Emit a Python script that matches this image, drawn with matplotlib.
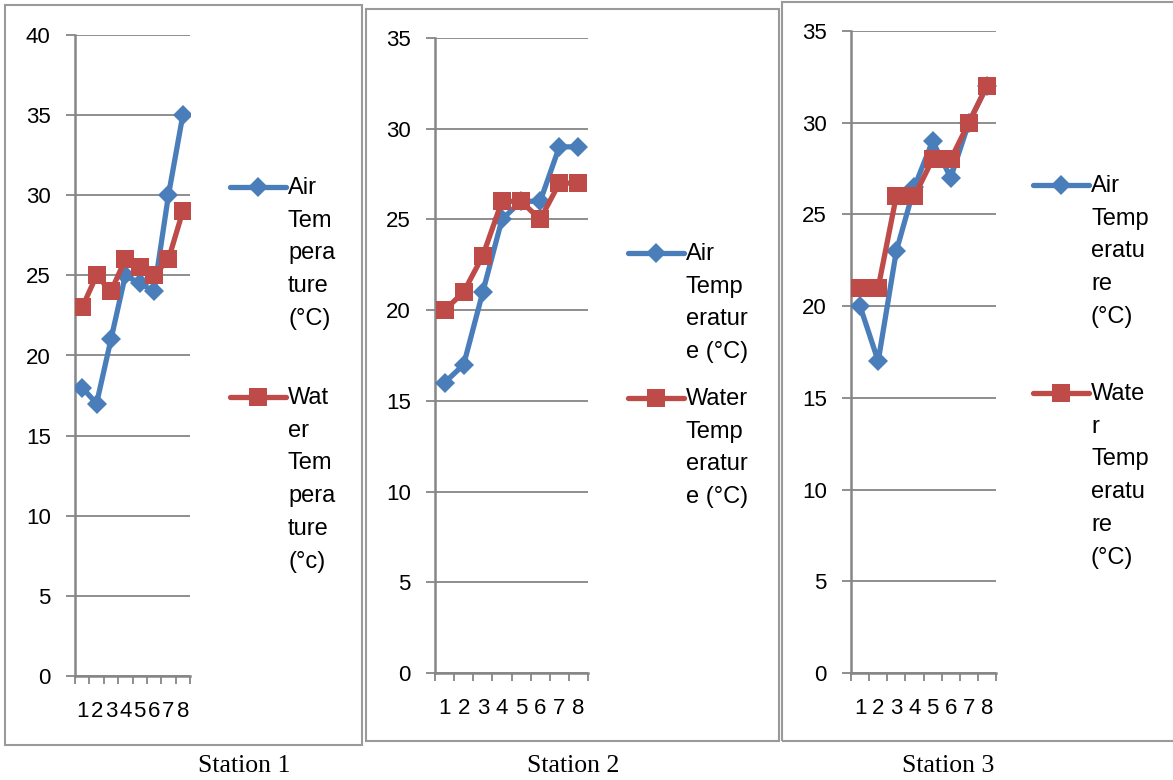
import matplotlib
matplotlib.use("Agg")
import matplotlib.pyplot as plt
from matplotlib.lines import Line2D
from matplotlib.patches import Rectangle

# 데이터
samples = [1, 2, 3, 4, 5, 6, 7, 8]
air_s1 = [18, 17, 21, 25, 24.5, 24, 30, 35]
water_s1 = [23, 25, 24, 26, 25.5, 25, 26, 29]
air_s2 = [16, 17, 21, 25, 26, 26, 29, 29]
water_s2 = [20, 21, 23, 26, 26, 25, 27, 27]
air_s3 = [20, 17, 23, 26.5, 29, 27, 30, 32]
water_s3 = [21, 21, 26, 26, 28, 28, 30, 32]

station_names = ["Station 1", "Station 2", "Station 3"]
air_labels = ["Air\nTem\npera\nture\n(°C)",
              "Air\nTemp\neratur\ne (°C)",
              "Air\nTemp\neratu\nre\n(°C)"]
water_labels = ["Wat\ner\nTem\npera\nture\n(°c)",
                "Water\nTemp\neratur\ne (°C)",
                "Wate\nr\nTemp\neratu\nre\n(°C)"]

W, H = 1173, 780
BLUE = "#4a7ebb"
RED = "#be4b48"
GRAY = "#868686"
SANS = "Liberation Sans"

fig = plt.figure(figsize=(W / 100, H / 100), dpi=100)


def fx(px):
    return px / W


def fy(py):
    return 1 - py / H


# 패널 위치 (픽셀): 박스, 축 영역, 범례, 제목
panels = [
    dict(box=(5, 5, 362, 745), ax=(75, 35, 190, 676), ymax=40,
         leg_x=230, air_y=187, water_y=397, caption_x=244),
    dict(box=(366, 9, 779, 741), ax=(435, 38, 588, 673), ymax=35,
         leg_x=628, air_y=253, water_y=398, caption_x=573),
    dict(box=(782, 2, 1180, 741), ax=(851, 31, 996, 673), ymax=35,
         leg_x=1033, air_y=185, water_y=393, caption_x=948),
]
air_all = [air_s1, air_s2, air_s3]
water_all = [water_s1, water_s2, water_s3]

for i, p in enumerate(panels):
    # 테두리 박스
    x0, y0, x1, y1 = p["box"]
    fig.patches.append(Rectangle((fx(x0), fy(y1)), fx(x1 - x0), (y1 - y0) / H,
                                 transform=fig.transFigure, fill=False,
                                 edgecolor="#9a9a9a", linewidth=1.5))

    a0, b0, a1, b1 = p["ax"]
    ax = fig.add_axes([fx(a0), fy(b1), fx(a1 - a0), (b1 - b0) / H])
    ax.plot(samples, air_all[i], color=BLUE, lw=3.8, marker="D", ms=10,
            markeredgewidth=0, solid_joinstyle="round", zorder=3)
    ax.plot(samples, water_all[i], color=RED, lw=3.8, marker="s", ms=13,
            markeredgewidth=0, solid_joinstyle="round", zorder=4)

    ax.set_xlim(0.5, 8.5)
    ax.set_ylim(0, p["ymax"])
    ax.set_yticks(range(0, p["ymax"] + 1, 5))
    ax.set_xticks(samples)
    ax.set_xticks([k + 0.5 for k in range(0, 9)], minor=True)
    ax.grid(axis="y", color=GRAY, lw=1.3)
    ax.set_axisbelow(True)
    for s in ["top", "right"]:
        ax.spines[s].set_visible(False)
    for s in ["left", "bottom"]:
        ax.spines[s].set_color(GRAY)
        ax.spines[s].set_linewidth(1.8)
    ax.tick_params(axis="y", length=6.5, width=1.3, color=GRAY, pad=11,
                   labelsize=16)
    ax.tick_params(axis="x", which="major", length=0, pad=18, labelsize=16)
    ax.tick_params(axis="x", which="minor", length=6, width=1.3, color=GRAY)
    for lab in ax.get_xticklabels() + ax.get_yticklabels():
        lab.set_fontfamily(SANS)

    # 범례 (수동)
    lx = p["leg_x"]
    for yy, col, mk, ms, txt in [(p["air_y"], BLUE, "D", 10, air_labels[i]),
                                 (p["water_y"], RED, "s", 13, water_labels[i])]:
        fig.add_artist(Line2D([fx(lx), fx(lx + 56)], [fy(yy), fy(yy)],
                              transform=fig.transFigure, color=col, lw=3.8,
                              solid_capstyle="round"))
        fig.add_artist(Line2D([fx(lx + 28)], [fy(yy)], transform=fig.transFigure,
                              color=col, marker=mk, ms=ms, markeredgewidth=0))
        fig.text(fx(lx + 58), fy(yy - 10), txt, ha="left", va="top",
                 fontsize=17, family=SANS, linespacing=1.63)

    fig.text(fx(p["caption_x"]), fy(766), station_names[i], ha="center",
             va="center", fontsize=18.5, family="Liberation Serif")

fig.savefig("out.png", dpi=100)
